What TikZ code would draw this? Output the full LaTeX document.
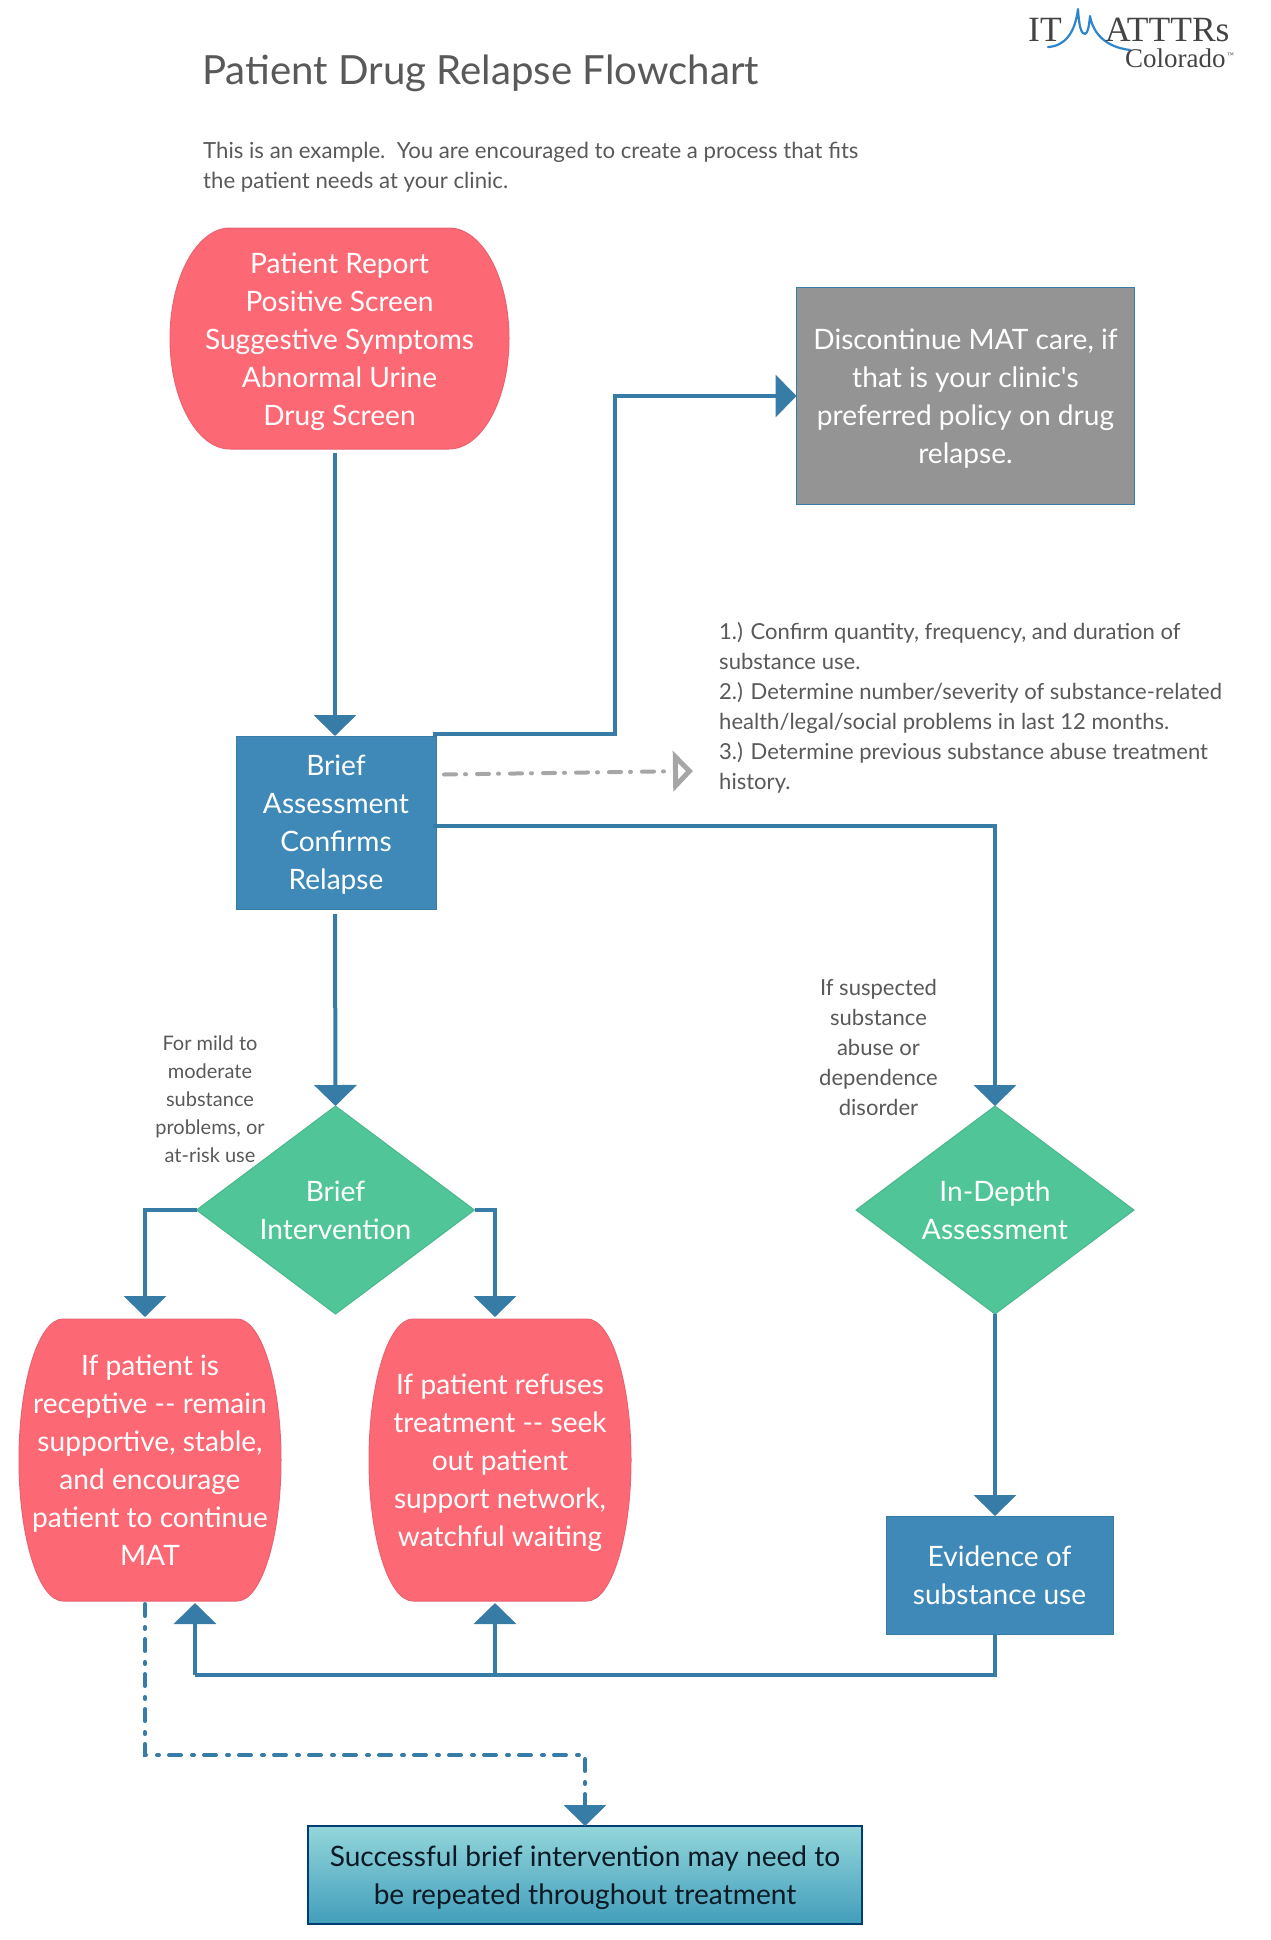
\documentclass[tikz,border=0pt]{standalone}
\usepackage{fontspec}
\setmainfont{Lato}
\newfontfamily\logofont{Liberation Serif}
\usetikzlibrary{shapes.geometric,arrows.meta,calc}
\definecolor{linkblue}{HTML}{377CA6}
\definecolor{boxblue}{HTML}{3F89B9}
\definecolor{redfill}{HTML}{FC6874}
\definecolor{redline}{HTML}{EC6272}
\definecolor{greenfill}{HTML}{50C597}
\definecolor{greenline}{HTML}{4DB68F}
\definecolor{greyfill}{HTML}{949494}
\definecolor{inktext}{HTML}{595959}
\definecolor{dashgrey}{HTML}{A6A6A6}
\definecolor{swoosh}{HTML}{2E86C8}
\definecolor{logoink}{HTML}{444444}
\definecolor{finaltop}{HTML}{93D6DA}
\definecolor{finalbot}{HTML}{429EBB}
\definecolor{finalline}{HTML}{003D73}
\definecolor{finaltext}{HTML}{0B1A24}
\tikzset{
  x=1pt,y=-1pt,
  bigtext/.style={font=\fontsize{28.1}{38}\selectfont,align=center,text=white},
  plainbox/.style={rectangle,inner sep=0pt,outer sep=0pt,line width=1pt},
  bluebox/.style={plainbox,bigtext,fill=boxblue,draw=linkblue},
  greybox/.style={plainbox,bigtext,fill=greyfill,draw=linkblue},
  greenbox/.style={diamond,inner sep=0pt,outer sep=0pt,aspect=1.33,bigtext,fill=greenfill,draw=greenline,line width=1pt,minimum width=278pt,minimum height=208pt},
  blobtext/.style={rectangle,inner sep=0pt,outer sep=0pt,bigtext},
  link/.style={draw=linkblue,line width=4pt,line join=miter},
  head/.style={-{Triangle[width=42pt,length=21pt]}},
  dashlink/.style={link,line cap=round,dash pattern=on 12pt off 11pt on 2pt off 10pt},
  small/.style={font=\fontsize{22.05}{30}\selectfont,text=inktext},
  smaller/.style={font=\fontsize{20}{28}\selectfont,text=inktext,align=center},
}
\newcommand{\redblob}[5]{%
  \pgfmathsetmacro{\mx}{(#1+#3)/2}%
  \pgfmathsetmacro{\my}{(#2+#4)/2}%
  \pgfmathsetmacro{\hh}{(#4-#2)/2}%
  \fill[redfill,draw=redline,line width=1pt]
    ({#1+#5},#2) -- ({#3-#5},#2)
    .. controls ({#3-0.45*#5},#2) and (#3,{\my-0.55*\hh}) .. (#3,\my)
    .. controls (#3,{\my+0.55*\hh}) and ({#3-0.45*#5},#4) .. ({#3-#5},#4)
    -- ({#1+#5},#4)
    .. controls ({#1+0.45*#5},#4) and (#1,{\my+0.55*\hh}) .. (#1,\my)
    .. controls (#1,{\my-0.55*\hh}) and ({#1+0.45*#5},#2) .. cycle;}
\begin{document}
\begin{tikzpicture}
\useasboundingbox (0,0) rectangle (1270,1940);
% logo
\draw[swoosh,line width=2.2pt,line join=round,line cap=round]
  (1048,47) .. controls (1065,46) and (1075,33) .. (1078,9)
  .. controls (1079,26) and (1081,34) .. (1085,34)
  .. controls (1088,33) and (1089,26) .. (1090,16)
  .. controls (1093,33) and (1105,47) .. (1130,50);
\node[font=\logofont\fontsize{35.5}{35}\selectfont,text=logoink,anchor=base west,inner sep=0pt] (logoa) at (1028,42) {IT};
\node[font=\logofont\fontsize{35.5}{34}\selectfont,text=logoink,anchor=base west,inner sep=0pt] (logob) at (1105,42) {ATTTRs};
\node[font=\logofont\fontsize{27}{26}\selectfont,text=logoink,anchor=base west,inner sep=0pt] (logoc) at (1125,68) {Colorado};
\node[font=\logofont\fontsize{7}{7}\selectfont,text=logoink,anchor=base west,inner sep=0pt] (logod) at (1227,58) {™};
% titles
\node[font=\fontsize{40.2}{44}\selectfont,text=inktext,anchor=west,inner sep=0pt] (title) at (202,73) {Patient Drug Relapse Flowchart};
\node[font=\fontsize{22.2}{30}\selectfont,text=inktext,anchor=west,align=left,inner sep=0pt] (intro) at (203,167) {This is an example.\ \ You are encouraged to create a process that fits\\the patient needs at your clinic.};
% shapes
\redblob{170}{228}{509}{449}{60}
\node[blobtext,minimum width=339pt,minimum height=221pt] (report) at (339.5,339.5) {Patient Report\\Positive Screen\\Suggestive Symptoms\\Abnormal Urine\\\smash{Drug Screen}};
\node[greybox,minimum width=338pt,minimum height=217pt] (stop) at (965.5,396) {Discontinue MAT care, if\\that is your clinic\textquotesingle s\\preferred policy on drug\\\smash{relapse.}};
\node[bluebox,minimum width=200pt,minimum height=173pt] (assess) at (336,822.5) {Brief\\Assessment\\Confirms\\\smash{Relapse}};
\node[small,anchor=west,align=left,inner sep=0pt] (notes) at (719,708) {1.) Confirm quantity, frequency, and duration of\\substance use.\\2.) Determine number/severity of substance-related\\health/legal/social problems in last 12 months.\\3.) Determine previous substance abuse treatment\\history.};
\node[small,align=center,inner sep=0pt] (ifsusp) at (878.5,1047) {If suspected\\substance\\abuse or\\dependence\\disorder};
\node[smaller,inner sep=0pt] (formild) at (210,1099) {For mild to\\moderate\\substance\\problems, or\\at-risk use};
\node[greenbox] (brief) at (335.5,1210) {Brief\\Intervention};
\node[greenbox] (indepth) at (995,1210) {In-Depth\\Assessment};
\redblob{19}{1319}{281}{1601}{44}
\node[blobtext,minimum width=262pt,minimum height=282pt] (recept) at (150,1460) {If patient is\\receptive -{}- remain\\supportive, stable,\\and encourage\\patient to continue\\MAT};
\redblob{369}{1319}{631}{1601}{44}
\node[blobtext,minimum width=262pt,minimum height=282pt] (refuse) at (500,1460) {If patient refuses\\treatment -{}- seek\\out patient\\support network,\\\smash{watchful waiting}};
\node[bluebox,minimum width=227pt,minimum height=118pt] (evid) at (999.5,1575) {Evidence of\\substance use};
\node[plainbox,shade,top color=finaltop,bottom color=finalbot,draw=finalline,line width=2.5pt,font=\fontsize{28.1}{38}\selectfont,align=center,text=finaltext,minimum width=554pt,minimum height=98pt] (final) at (585,1875) {Successful brief intervention may need to\\\smash{be repeated throughout treatment}};
% helpers
\coordinate (bendup) at (615,396);
\coordinate (busl) at (195,1675);
\coordinate (busr) at (495,1675);
\coordinate (dashbend) at (585,1755);
\coordinate (upstart) at ([xshift=-3pt,yshift=2pt]assess.north east);
% connectors
\draw[link,head] ([xshift=-4.5pt,yshift=-3pt]report.south) -- ([xshift=-1pt]assess.north);
\draw[link,head] (upstart) -- (bendup |- upstart) -- (bendup) -- (stop.west);
\draw[link,head] ([xshift=-3pt,yshift=-3pt]assess.east) -| (indepth.north);
\draw[link,head] ([xshift=-1pt,yshift=-5pt]assess.south) -- (brief.north);
\draw[link,head] (brief.west) -| ([xshift=-5pt,yshift=2pt]recept.north);
\draw[link,head] (brief.east) -| ([xshift=-5pt,yshift=2pt]refuse.north);
\draw[link,head] (indepth.south) -- ([xshift=-4.5pt]evid.north);
\draw[link] ([xshift=-4.5pt]evid.south) |- (busl);
\draw[link,head] (busl) -- ([xshift=45pt,yshift=-2pt]recept.south);
\draw[link,head] (busr) -- ([xshift=-5pt,yshift=-2pt]refuse.south);
\draw[dashlink] ([xshift=-5pt,yshift=-3pt]recept.south) |- (dashbend) -- ([yshift=22pt]final.north);
\draw[link,head] ([yshift=23pt]final.north) -- (final.north);
\draw[draw=dashgrey,line width=4pt,line cap=round,dash pattern=on 12pt off 9pt on 1pt off 11pt,-{Triangle[open,width=40pt,length=20pt,line width=5pt,fill=white]}] ([xshift=8pt,yshift=48pt]assess.east) -- ([xshift=-26pt,yshift=-63pt]notes.west);
\end{tikzpicture}
\end{document}
